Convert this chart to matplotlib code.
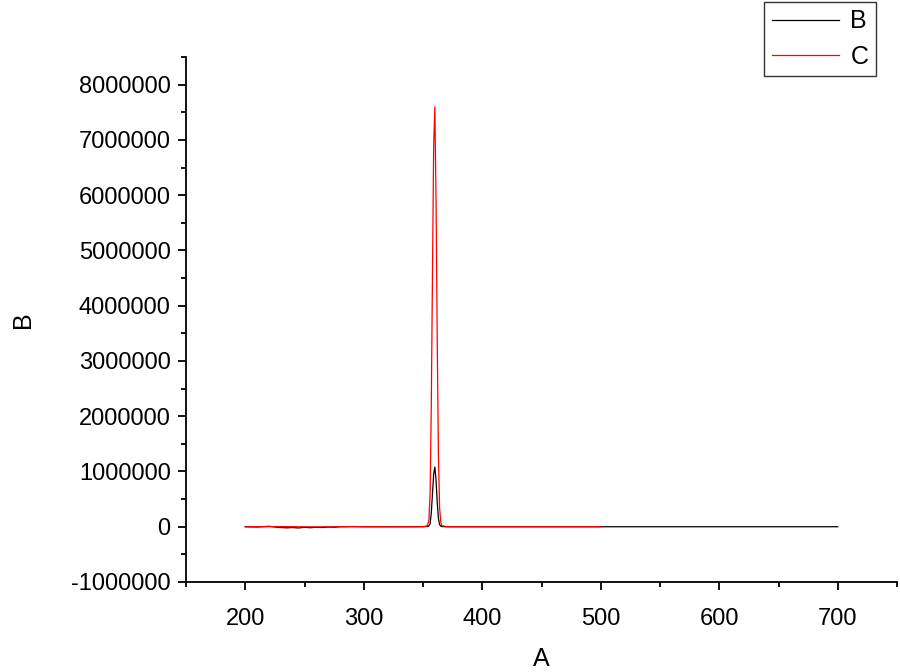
import numpy as np
import matplotlib.pyplot as plt
from matplotlib.ticker import MultipleLocator, FuncFormatter

# series B (black): 200-700, small noise at short wavelengths, weak peak at 360
x_b = [200, 210, 220, 228, 235, 240, 245, 250, 255, 260, 265, 270, 275, 280, 290,
       300, 320, 340, 350, 354, 355, 356, 357, 358, 359, 360, 361, 362, 363, 364,
       365, 366, 370, 400, 450, 500, 550, 600, 650, 700]
y_b = [0, -5000, 8000, -12000, -20000, -15000, -22000, -10000, -18000, -8000,
       -14000, -5000, -9000, 0, 3000,
       0, 0, 0, 2000, 5000, 15000, 60000, 250000, 600000, 950000, 1080000,
       850000, 450000, 150000, 40000,
       10000, 3000, 0, 0, 0, 0, 0, 0, 0, 0]

# series C (red): 200-500, strong peak at 360
x_c = [200, 230, 260, 290, 320, 340, 350, 353, 354, 355, 356, 357, 358, 359, 360,
       361, 362, 363, 364, 365, 366, 370, 400, 450, 500]
y_c = [0, 3000, -3000, 2000, 0, 0, 0, 10000, 40000, 120000, 600000, 2200000,
       4600000, 6900000, 7600000,
       5900000, 3400000, 1300000, 350000, 80000, 20000, 0, 0, 0, 0]

plt.rcParams['font.family'] = ['Liberation Sans', 'DejaVu Sans']

fig = plt.figure(figsize=(9, 6.72), dpi=100)
ax = fig.add_axes([186 / 900, 90 / 672, (897 - 186) / 900, (582 - 57) / 672])

ax.plot(x_b, y_b, color='black', lw=0.9, label='B')
ax.plot(x_c, y_c, color='red', lw=0.9, label='C')

ax.set_xlim(150, 750)
ax.set_ylim(-1000000, 8500000)
ax.set_xticks(np.arange(200, 701, 100))
ax.xaxis.set_minor_locator(MultipleLocator(50))
ax.set_yticks(np.arange(-1000000, 8000001, 1000000))
ax.yaxis.set_minor_locator(MultipleLocator(500000))
ax.yaxis.set_major_formatter(FuncFormatter(lambda v, p: '%d' % v))

for s in ['top', 'right']:
    ax.spines[s].set_visible(False)
for s in ['left', 'bottom']:
    ax.spines[s].set_linewidth(1.3)

ax.tick_params(which='major', direction='out', length=6, width=1.3, labelsize=17, pad=5)
ax.tick_params(which='minor', direction='out', length=3.5, width=1.3)
ax.tick_params(axis='x', which='major', pad=13)

ax.set_xlabel('A', fontsize=18, labelpad=12)
ax.set_ylabel('B', fontsize=18, labelpad=26)

leg = fig.legend(loc='upper right', bbox_to_anchor=(876 / 900, 1 - 2 / 672),
                 borderaxespad=0, fontsize=18, frameon=True, fancybox=False,
                 edgecolor='black', handlelength=2.7, borderpad=0.3,
                 labelspacing=0.45, handletextpad=0.45)
leg.get_frame().set_linewidth(1.0)

fig.savefig('out.png', dpi=100)
